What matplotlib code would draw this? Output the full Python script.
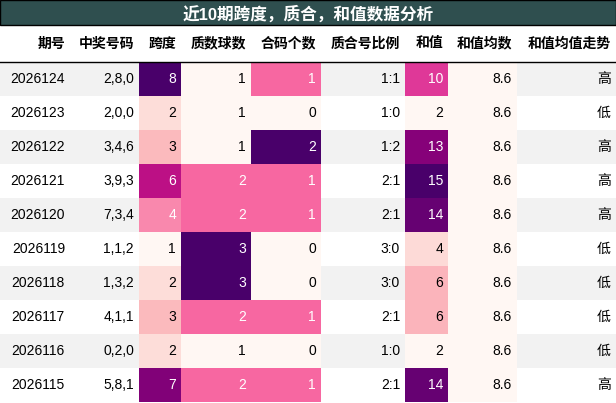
import numpy as np
import matplotlib
matplotlib.use("Agg")
import matplotlib.pyplot as plt
from matplotlib.patches import Rectangle

plt.rcParams['font.family'] = ['Liberation Sans', 'Noto Sans CJK SC', 'DejaVu Sans']

title = "近10期跨度，质合，和值数据分析"
headers = ["期号", "中奖号码", "跨度", "质数球数", "合码个数", "质合号比例", "和值", "和值均数", "和值均值走势"]
issues = ["2026124", "2026123", "2026122", "2026121", "2026120", "2026119", "2026118", "2026117", "2026116", "2026115"]
numbers = ["2,8,0", "2,0,0", "3,4,6", "3,9,3", "7,3,4", "1,1,2", "1,3,2", "4,1,1", "0,2,0", "5,8,1"]
span = [8, 2, 3, 6, 4, 1, 2, 3, 2, 7]
primes = [1, 1, 1, 2, 2, 3, 3, 2, 1, 2]
composites = [1, 0, 2, 1, 1, 0, 0, 1, 0, 1]
ratio = ["1:1", "1:0", "1:2", "2:1", "2:1", "3:0", "3:0", "2:1", "1:0", "2:1"]
sums = [10, 2, 13, 15, 14, 4, 6, 6, 2, 14]
sum_mean = [8.6] * 10
trend = ["高", "低", "高", "高", "高", "低", "低", "低", "低", "高"]

# column right edges in pixels
edges = [0, 70, 139, 181, 251, 321, 405, 448, 517, 616]
W, H = 616, 403
title_h, head_h, row_h = 25, 37, 34

cols = [issues, numbers, span, primes, composites, ratio, sums, sum_mean, trend]
grad = {2, 3, 4, 6, 7}
cmap = plt.get_cmap("RdPu")

fig = plt.figure(figsize=(W / 100, H / 100), dpi=100)
ax = fig.add_axes([0, 0, 1, 1])
ax.set_xlim(0, W)
ax.set_ylim(H, 0)
ax.axis("off")

ax.add_patch(Rectangle((0, 0), W, title_h, facecolor="#2f4f4f", edgecolor="black", lw=1))
ax.text(W / 2, title_h / 2 + 1, title, color="white", fontsize=12, fontweight="bold",
        ha="center", va="center")

for j, h in enumerate(headers):
    ax.text(edges[j + 1] - 5, title_h + head_h / 2, h, fontsize=10, fontweight="bold",
            ha="right", va="center")
ax.plot([0, W], [title_h + head_h, title_h + head_h], color="black", lw=1)


def lum(c):
    r, g, b = [x / 12.92 if x <= 0.04045 else ((x + 0.055) / 1.055) ** 2.4 for x in c[:3]]
    return 0.2126 * r + 0.7152 * g + 0.0722 * b


for j, col in enumerate(cols):
    if j in grad:
        v = np.array(col, dtype=float)
        rng = v.max() - v.min()
        norm = (v - v.min()) / rng if rng > 0 else np.zeros_like(v)
    for i, val in enumerate(col):
        y0 = title_h + head_h + i * row_h
        x0, x1 = edges[j], edges[j + 1]
        tc = "black"
        if j in grad:
            fc = cmap(norm[i])
            if lum(fc) < 0.408:
                tc = "white"
        else:
            fc = "#f2f2f2" if i % 2 == 0 else "white"
        ax.add_patch(Rectangle((x0, y0), x1 - x0, row_h, facecolor=fc, edgecolor="none"))
        ax.text(x1 - 5, y0 + row_h / 2, str(val), color=tc, fontsize=10, ha="right", va="center")

fig.savefig("out.png", dpi=100)
